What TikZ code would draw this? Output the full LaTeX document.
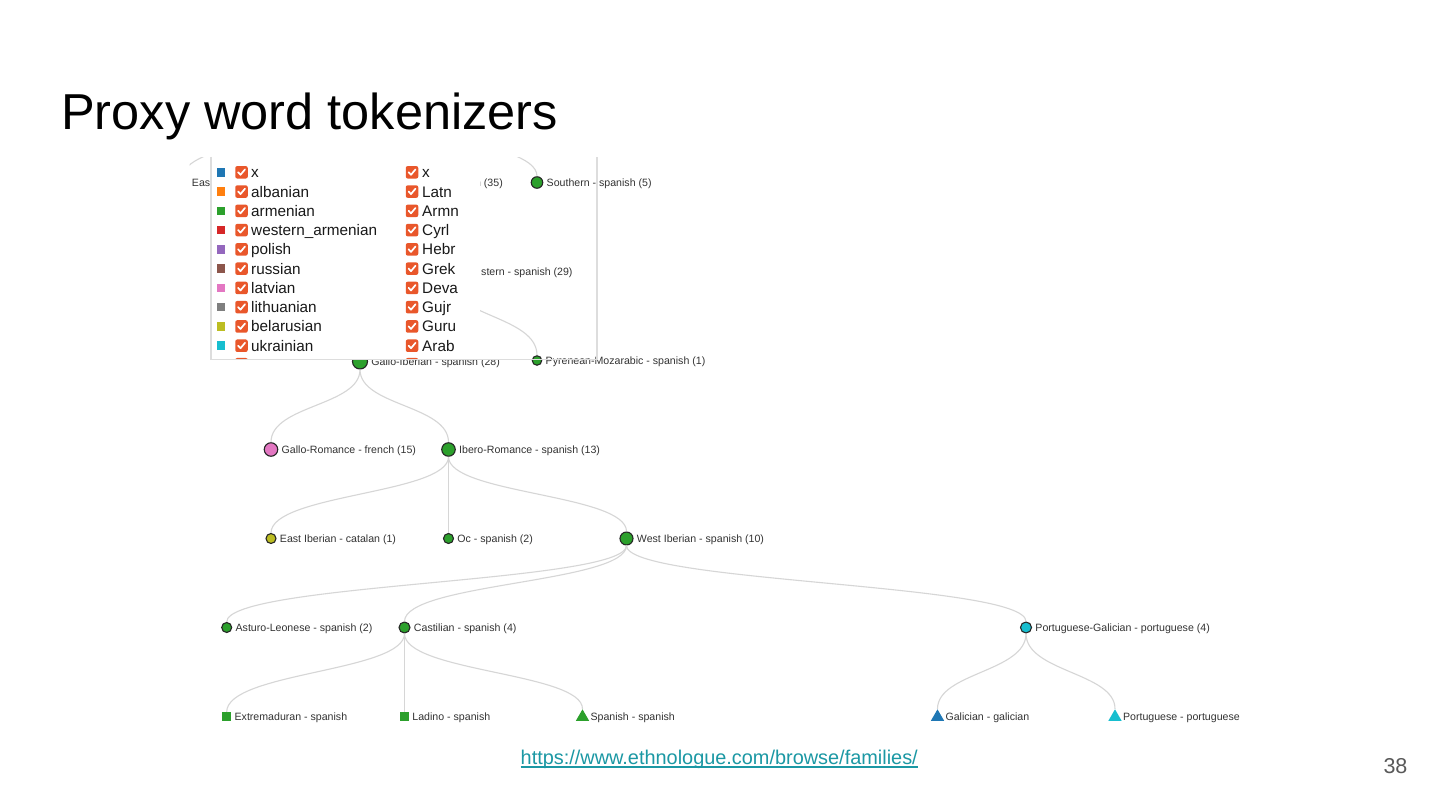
\documentclass[tikz,border=0pt]{standalone}
\usepackage{fontspec}
\setmainfont{Liberation Sans}
\usetikzlibrary{shapes.geometric}
\definecolor{c0}{HTML}{1F77B4}
\definecolor{c1}{HTML}{FF7F0E}
\definecolor{c2}{HTML}{2CA02C}
\definecolor{c3}{HTML}{D62728}
\definecolor{c4}{HTML}{9467BD}
\definecolor{c5}{HTML}{8C564B}
\definecolor{c6}{HTML}{E377C2}
\definecolor{c7}{HTML}{7F7F7F}
\definecolor{c8}{HTML}{BCBD22}
\definecolor{c9}{HTML}{17BECF}
\definecolor{tickor}{HTML}{E9572B}
\definecolor{linkgray}{HTML}{D6D6D6}
\definecolor{textgray}{HTML}{333333}
\definecolor{framegray}{HTML}{DDDDDD}
\definecolor{urlteal}{HTML}{1B98A4}
\definecolor{numgray}{HTML}{595959}

\begin{document}
\begin{tikzpicture}[x=1pt,y=-1pt]
    \tikzset{
      circ/.style={draw=black!85, circle, line width=1.1pt, inner sep=0pt, minimum size=#1},
      sqr/.style={rectangle, inner sep=0pt, minimum size=8.7pt, fill=c2},
      tri/.style={regular polygon, regular polygon sides=3, inner sep=0pt, minimum size=15.4pt},
      lbl/.style={font=\fontsize{10.6}{12}\selectfont, text=textgray, inner sep=0pt, text height=7.6pt, text depth=0pt, label distance=3.2pt},
      leg/.style={font=\fontsize{15.3}{18}\selectfont, text=black!90, inner sep=0pt, anchor=west, text height=11pt, text depth=0pt},
      swatch/.style={rectangle, inner sep=0pt, minimum size=8.5pt},
      chkbox/.style={fill=tickor, rounded corners=2pt, inner sep=0pt, minimum size=12.5pt,
        path picture={\draw[white, line width=1.7pt, line cap=round, line join=round, sharp corners] (path picture bounding box.center) ++(-3.4,-0.1) -- ++(2.4,2.6) -- ++(4.5,-5.4);}},
      line/.style={draw=linkgray, line width=1.1pt},
      frame/.style={draw=framegray, line width=1.2pt}
    }
    \fill[white] (0,0) rectangle (1440,810);
    \useasboundingbox (0,0) rectangle (1440,810);
    \node[font=\fontsize{50.5}{60}\selectfont, anchor=base west, inner sep=0pt] (title) at (61,130) {Proxy word tokenizers};

    \begin{scope}
    \clip (189.5,157.5) rectangle (1300,745);
    \coordinate (fam) at (360,93.5);
    \node[circ=10pt, fill=c2, label={[lbl]right:East}] (east) at (183,182.5) {};
    \node[circ=11.5pt, fill=c2, label={[lbl]right:Southern - spanish (5)}] (south) at (537,182.5) {};
    \node[lbl, anchor=east] (t35) at (503,182.5) {spanish (35)};
    \node[circ=13pt, fill=c2] (n29) at (448.5,271.5) {};
    \node[lbl, anchor=west] (t29) at (481,271.5) {stern - spanish (29)};
    \node[circ=15pt, fill=c2, label={[lbl]right:Gallo-Iberian - spanish (28)}] (galloib) at (360,361.5) {};
    \node[circ=9.5pt, fill=c2, label={[lbl]right:Pyrenean-Mozarabic - spanish (1)}] (pyren) at (537,360.5) {};
    \node[circ=13.5pt, fill=c6, label={[lbl]right:Gallo-Romance - french (15)}] (galrom) at (271,449.5) {};
    \node[circ=13.5pt, fill=c2, label={[lbl]right:Ibero-Romance - spanish (13)}] (ibero) at (448.5,449.5) {};
    \node[circ=10pt, fill=c8, label={[lbl]right:East Iberian - catalan (1)}] (eastib) at (271,538.5) {};
    \node[circ=10pt, fill=c2, label={[lbl]right:Oc - spanish (2)}] (oc) at (448.5,538.5) {};
    \node[circ=13pt, fill=c2, label={[lbl]right:West Iberian - spanish (10)}] (westib) at (626.5,538.5) {};
    \node[circ=10pt, fill=c2, label={[lbl]right:Asturo-Leonese - spanish (2)}] (asturo) at (226.7,627.5) {};
    \node[circ=11pt, fill=c2, label={[lbl]right:Castilian - spanish (4)}] (castil) at (404.5,627.5) {};
    \node[circ=11pt, fill=c9, label={[lbl]right:Portuguese-Galician - portuguese (4)}] (portgal) at (1026,627.5) {};
    \node[sqr, label={[lbl]right:Extremaduran - spanish}] (extrem) at (226.7,716.5) {};
    \node[sqr, label={[lbl]right:Ladino - spanish}] (ladino) at (404.5,716.5) {};
    \node[tri, fill=c2, label={[lbl]right:Spanish - spanish}] (spanish) at (582.5,717) {};
    \node[tri, fill=c0, label={[lbl]right:Galician - galician}] (galic) at (937.5,717) {};
    \node[tri, fill=c9, label={[lbl]right:Portuguese - portuguese}] (portug) at (1115,717) {};

    \path [line] (fam) .. controls +(0,44.5) and +(0,-44.5) .. (east);
    \path [line] (fam) .. controls +(0,44.5) and +(0,-44.5) .. (south);
    \path [line] (n29) .. controls +(0,44.5) and +(0,-44.5) .. (galloib);
    \path [line] (n29) .. controls +(0,44.5) and +(0,-44.5) .. (pyren);
    \path [line] (galloib) .. controls +(0,44.5) and +(0,-44.5) .. (galrom);
    \path [line] (galloib) .. controls +(0,44.5) and +(0,-44.5) .. (ibero);
    \path [line] (ibero) .. controls +(0,44.5) and +(0,-44.5) .. (eastib);
    \path [line] (ibero) -- (oc);
    \path [line] (ibero) .. controls +(0,44.5) and +(0,-44.5) .. (westib);
    \path [line] (westib) .. controls +(0,44.5) and +(0,-44.5) .. (asturo);
    \path [line] (westib) .. controls +(0,44.5) and +(0,-44.5) .. (castil);
    \path [line] (westib) .. controls +(0,44.5) and +(0,-44.5) .. (portgal);
    \path [line] (castil) .. controls +(0,44.5) and +(0,-44.5) .. (extrem);
    \path [line] (castil) -- (ladino);
    \path [line] (castil) .. controls +(0,44.5) and +(0,-44.5) .. (spanish);
    \path [line] (portgal) .. controls +(0,44.5) and +(0,-44.5) .. (galic);
    \path [line] (portgal) .. controls +(0,44.5) and +(0,-44.5) .. (portug);
    \end{scope}

    \fill[white] (211,157) rectangle (479.5,358.5);
    \fill[white] (211,350) rectangle (502,358.5);
    \foreach \lang/\scr/\col [count=\i from 0] in {x/x/c0, albanian/Latn/c1, armenian/Armn/c2, western\_armenian/Cyrl/c3, polish/Hebr/c4, russian/Grek/c5, latvian/Deva/c6, lithuanian/Gujr/c7, belarusian/Guru/c8, ukrainian/Arab/c9}{
      \node[swatch, fill=\col] (sw\i) at (221,172.3+19.27*\i) {};
      \node[chkbox] (cb\i) at (241.5,172.3+19.27*\i) {};
      \node[leg] (lang\i) at (251,172.3+19.27*\i) {\lang};
      \node[chkbox] (cs\i) at (412,172.3+19.27*\i) {};
      \node[leg] (scr\i) at (422,172.3+19.27*\i) {\scr};
    }
    \begin{scope}
    \clip (211,350) rectangle (597,359.5);
    \node[chkbox] (cbx) at (241.5,364.2) {};
    \node[chkbox] (csx) at (412,364.2) {};
    \end{scope}
    \draw[frame] (211,157) -- (211,359.5) -- (597,359.5) -- (597,157);

    \node[font=\fontsize{19.9}{23}\selectfont, text=urlteal, anchor=base west, inner sep=0pt] (url) at (520.5,764.5) {https://www.ethnologue.com/browse/families/};
    \draw[urlteal, line width=1.3pt] ([yshift=-2.6pt]url.base west) -- ([yshift=-2.6pt]url.base east);
    \node[font=\fontsize{21.5}{25}\selectfont, text=numgray, anchor=base east, inner sep=0pt] (pagenum) at (1407.6,773.3) {38};
\end{tikzpicture}
\end{document}
